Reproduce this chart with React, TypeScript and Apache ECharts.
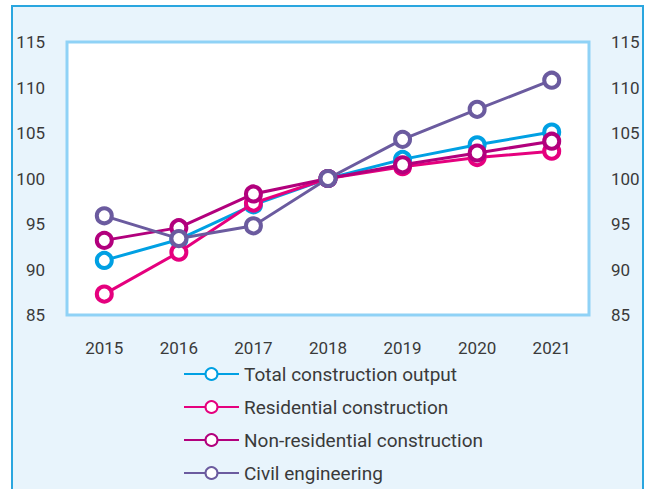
import React, { useEffect, useRef } from "react";
import * as echarts from "echarts";

const years = ["2015", "2016", "2017", "2018", "2019", "2020", "2021"];
const seriesNames = [
  "Total construction output",
  "Residential construction",
  "Non-residential construction",
  "Civil engineering",
];
const totalOutput = [91.0, 93.3, 97.1, 100, 102.1, 103.7, 105.1];
const residential = [87.3, 91.9, 97.3, 100, 101.3, 102.3, 103.0];
const nonResidential = [93.2, 94.6, 98.3, 100, 101.5, 102.8, 104.1];
const civilEngineering = [95.9, 93.4, 94.8, 100, 104.3, 107.6, 110.8];
const colors = ["#00a0e3", "#e5007e", "#b2007d", "#6b5b9f"];

const FONT = "Roboto, 'Open Sans', sans-serif";

export default function App() {
  const ref = useRef<HTMLDivElement>(null);
  useEffect(() => {
    document.body.style.margin = "0";
    const chart = echarts.init(ref.current!, undefined, { renderer: "svg" });
    const data = [totalOutput, residential, nonResidential, civilEngineering];
    const axisLabel = { color: "#3a3a3a", fontSize: 17, fontFamily: FONT, margin: 22 };
    chart.setOption({
      animation: false,
      graphic: [
        {
          type: "rect",
          z: -10,
          silent: true,
          shape: { x: 12, y: 6, width: 631, height: 500 },
          style: { fill: "#e8f4fc", stroke: "#2aa6df", lineWidth: 2 },
        },
      ],
      grid: {
        left: 67,
        right: 61,
        top: 42,
        bottom: 174,
        show: true,
        backgroundColor: "#ffffff",
        borderColor: "#8fd2f6",
        borderWidth: 3,
        z: 1,
      },
      legend: {
        orient: "vertical",
        left: 183,
        top: 364,
        height: 140,
        padding: 0,
        itemWidth: 55,
        itemHeight: 15,
        itemGap: 13,
        textStyle: { color: "#3a3a3a", fontSize: 19, fontFamily: FONT, lineHeight: 20 },
        data: seriesNames,
      },
      xAxis: {
        type: "category",
        data: years,
        boundaryGap: true,
        axisLine: { show: false },
        axisTick: { show: false },
        splitLine: { show: false },
        axisLabel: { ...axisLabel, margin: 24 },
      },
      yAxis: [
        {
          type: "value",
          min: 85,
          max: 115,
          interval: 5,
          position: "left",
          axisLine: { show: false },
          axisTick: { show: false },
          splitLine: { show: false },
          axisLabel,
        },
        {
          type: "value",
          min: 85,
          max: 115,
          interval: 5,
          position: "right",
          axisLine: { show: false },
          axisTick: { show: false },
          splitLine: { show: false },
          axisLabel,
        },
      ],
      series: seriesNames.map((name, i) => ({
        name,
        type: "line",
        data: data[i],
        yAxisIndex: 0,
        symbol: "circle",
        symbolSize: 15,
        color: colors[i],
        lineStyle: { width: 3, color: colors[i] },
        itemStyle: { color: "#ffffff", borderColor: colors[i], borderWidth: 4 },
        z: 3 + i,
      })),
    });
    return () => chart.dispose();
  }, []);
  return <div ref={ref} style={{ width: 650, height: 489 }} />;
}
